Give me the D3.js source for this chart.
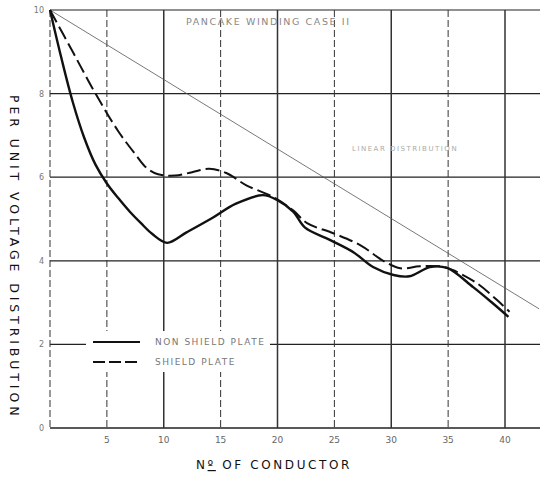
<!DOCTYPE html>
<html>
<head>
<meta charset="utf-8">
<script src="https://cdn.jsdelivr.net/npm/d3@7"></script>
<style>
  body { margin: 0; background: #fff; }
  text { font-family: "DejaVu Sans", sans-serif; }
</style>
</head>
<body>
<svg id="drawing_region"></svg>
<script>
// conductor number / per unit voltage
const nonShieldX = [0, 1, 2, 3, 4, 5, 6, 7, 8, 9, 10.3, 12, 14.3, 16.3, 18.7, 20, 21.4, 22.4, 24.6, 26.7, 28.4, 30.2, 31.6, 33.4, 34.9, 37.2, 38.9, 40.3];
const nonShieldY = [10, 8.85, 7.8, 6.95, 6.3, 5.85, 5.5, 5.18, 4.9, 4.64, 4.43, 4.68, 5.03, 5.36, 5.57, 5.45, 5.17, 4.8, 4.5, 4.2, 3.85, 3.66, 3.63, 3.85, 3.83, 3.37, 2.99, 2.66];

const shieldX = [0, 2, 4, 6, 7.5, 8.5, 9.5, 11, 12.5, 14, 15.5, 17.3, 19.6, 21.4, 22.6, 24.9, 27.3, 29.3, 30.8, 32.5, 34.5, 35.4, 37.5, 39.3, 40.4];
const shieldY = [10, 9.0, 8.0, 7.1, 6.55, 6.22, 6.07, 6.04, 6.12, 6.2, 6.1, 5.8, 5.53, 5.2, 4.9, 4.66, 4.37, 4.0, 3.82, 3.87, 3.86, 3.78, 3.47, 3.06, 2.78];

const linearX = [0, 43];
const linearY = [10, 2.85];

const xTicks = [0, 5, 10, 15, 20, 25, 30, 35, 40];
const yTicks = [0, 2, 4, 6, 8, 10];

const seriesNames = ["NON SHIELD PLATE", "SHIELD PLATE"];
const title = "PANCAKE WINDING    CASE II";
const note = "LINEAR  DISTRIBUTION";

const width = 546, height = 477;

const svg = d3.select('#drawing_region')
    .attr('width', width)
    .attr('height', height);

const xscale = d3.scaleLinear().domain([0, 40]).range([50, 505]);
const yscale = d3.scaleLinear().domain([0, 10]).range([428, 10]);
const xRight = 540;

// grid
svg.append('g')
    .selectAll('line')
    .data(yTicks)
    .join('line')
    .attr('x1', xscale(0))
    .attr('x2', xRight)
    .attr('y1', d => yscale(d))
    .attr('y2', d => yscale(d))
    .attr('stroke', '#222')
    .attr('stroke-width', d => d == 0 ? 1.6 : 1.2);

svg.append('g')
    .selectAll('line')
    .data(xTicks)
    .join('line')
    .attr('x1', d => xscale(d))
    .attr('x2', d => xscale(d))
    .attr('y1', yscale(10))
    .attr('y2', yscale(0))
    .attr('stroke', '#333')
    .attr('stroke-width', d => d % 10 == 0 && d > 0 ? 1.5 : 1)
    .attr('stroke-dasharray', d => d % 10 == 0 && d > 0 ? null : '7,3');

// tick labels
svg.append('g')
    .selectAll('text')
    .data(xTicks.filter(d => d > 0))
    .join('text')
    .attr('x', d => xscale(d))
    .attr('y', 443)
    .attr('text-anchor', 'middle')
    .attr('font-size', 9)
    .attr('fill', '#666')
    .text(d => d);

svg.append('g')
    .selectAll('text')
    .data(yTicks)
    .join('text')
    .attr('x', 44)
    .attr('y', d => yscale(d) + 3)
    .attr('text-anchor', 'end')
    .attr('font-size', 8)
    .attr('fill', '#777')
    .text(d => d);

// lines
const line = d3.line()
    .x(d => xscale(d[0]))
    .y(d => yscale(d[1]))
    .curve(d3.curveCatmullRom);

svg.append('path')
    .attr('d', d3.line().x(d => xscale(d[0])).y(d => yscale(d[1]))(d3.zip(linearX, linearY)))
    .attr('stroke', '#555')
    .attr('stroke-width', 0.8)
    .attr('fill', 'none');

svg.append('path')
    .attr('d', line(d3.zip(shieldX, shieldY)))
    .attr('stroke', '#111')
    .attr('stroke-width', 2)
    .attr('stroke-dasharray', '14,5')
    .attr('fill', 'none');

svg.append('path')
    .attr('d', line(d3.zip(nonShieldX, nonShieldY)))
    .attr('stroke', '#111')
    .attr('stroke-width', 2.4)
    .attr('fill', 'none');

// legend
const legend = svg.append('g');
legend.append('rect')
    .attr('x', 86).attr('y', 331)
    .attr('width', 184).attr('height', 41)
    .attr('fill', '#fff');
legend.append('line')
    .attr('x1', 93).attr('x2', 140).attr('y1', 342).attr('y2', 342)
    .attr('stroke', '#111').attr('stroke-width', 2.2);
legend.append('line')
    .attr('x1', 93).attr('x2', 140).attr('y1', 362).attr('y2', 362)
    .attr('stroke', '#111').attr('stroke-width', 2)
    .attr('stroke-dasharray', '12,4');
legend.selectAll('text')
    .data(seriesNames)
    .join('text')
    .attr('x', 155)
    .attr('y', (d, i) => 345 + i * 20)
    .attr('font-size', 9)
    .attr('letter-spacing', 1.5)
    .attr('fill', '#777')
    .text(d => d);

// texts
svg.append('text')
    .attr('x', 186).attr('y', 25)
    .attr('font-size', 9.5)
    .attr('letter-spacing', 1.6)
    .attr('fill', '#888')
    .text(title);

svg.append('text')
    .attr('x', 352).attr('y', 151)
    .attr('font-size', 7)
    .attr('letter-spacing', 1.5)
    .attr('fill', '#aaa')
    .text(note);

svg.append('text')
    .attr('transform', 'translate(10, 95) rotate(90)')
    .attr('font-size', 12.5)
    .attr('letter-spacing', 3.9)
    .attr('fill', '#111')
    .text('PER UNIT VOLTAGE DISTRIBUTION');

const xlabel = svg.append('text')
    .attr('x', 196).attr('y', 469)
    .attr('font-size', 12)
    .attr('letter-spacing', 2.6)
    .attr('fill', '#111');
xlabel.append('tspan').text('N');
xlabel.append('tspan').attr('text-decoration', 'underline').text('º');
xlabel.append('tspan').text('  OF   CONDUCTOR');
</script>
</body>
</html>
